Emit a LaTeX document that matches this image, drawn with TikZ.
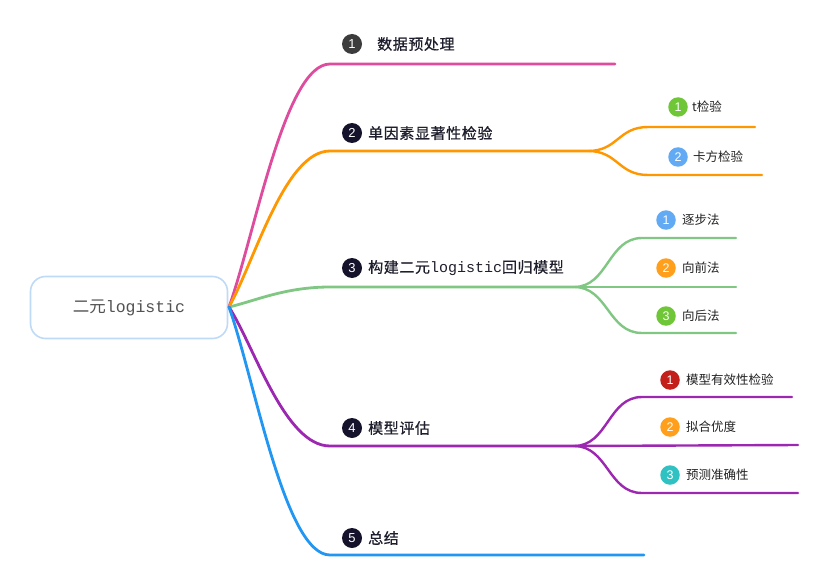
\documentclass[tikz,border=0pt]{standalone}
\usepackage{fontspec}
\setmainfont{Liberation Sans}
\newfontfamily\cjk{Noto Sans CJK SC}
\newfontfamily\cjkb[FakeBold=0.7,LetterSpace=4]{Noto Sans CJK SC}
\newfontfamily\mono{Liberation Mono}
\definecolor{cPink}{HTML}{DD4C9D}
\definecolor{cOrange}{HTML}{FF9800}
\definecolor{cGreen}{HTML}{81C784}
\definecolor{cPurple}{HTML}{9C27B0}
\definecolor{cBlue}{HTML}{2196F3}
\definecolor{cRoot}{HTML}{BFDAF7}
\definecolor{cDarkA}{HTML}{3C3C3C}
\definecolor{cDarkB}{HTML}{15132B}
\definecolor{sGreen}{HTML}{6FC636}
\definecolor{sBlue}{HTML}{62AAF4}
\definecolor{sOrange}{HTML}{FF9F1C}
\definecolor{sRed}{HTML}{C3201C}
\definecolor{sTeal}{HTML}{30C2C2}
\definecolor{tMain}{HTML}{1E1E2C}
\definecolor{tSub}{HTML}{222222}
\begin{document}
\begin{tikzpicture}[x=1pt,y=-1pt,
  br/.style={line width=2.8pt,line cap=round},
  sb/.style={line width=2.4pt,line cap=round},
  mc/.style={circle,minimum size=20pt,inner sep=0pt,text=white,font=\fontsize{13}{13}\selectfont},
  scir/.style={circle,minimum size=19.5pt,inner sep=0pt,text=white,font=\fontsize{12.5}{12.5}\selectfont},
  mlab/.style={anchor=west,inner sep=0pt,text=tMain,font=\fontsize{15}{15}\cjkb},
  slab/.style={anchor=west,inner sep=0pt,text=tSub,font=\fontsize{12.5}{12.5}\cjk}
]
\useasboundingbox (0,0) rectangle (826,588);
\fill[white] (0,0) rectangle (826,588);

% root
\node[draw=cRoot,line width=1.6pt,rounded corners=15pt,minimum width=197pt,minimum height=62pt,
      inner sep=0pt,text=black!68,font=\fontsize{16.5}{16.5}\cjk] (root) at (129,307.5) {二元{\mono logistic}};
\coordinate (r0) at (229,307);

% coordinates
\coordinate (a1) at (330,64);  \coordinate (b1) at (615,64);
\coordinate (a2) at (330,151); \coordinate (f2) at (588,151);
\coordinate (a3) at (330,287); \coordinate (f3) at (574,287);
\coordinate (a4) at (330,446); \coordinate (f4) at (574,446);
\coordinate (a5) at (330,555); \coordinate (b5) at (644,555);

\coordinate (s21a) at (648,127); \coordinate (s21b) at (755,127);
\coordinate (s22a) at (648,175); \coordinate (s22b) at (762,175);

\coordinate (s31a) at (642,238); \coordinate (s31b) at (736,238);
\coordinate (s32b) at (736,287);
\coordinate (s33a) at (642,333); \coordinate (s33b) at (736,333);

\coordinate (s41a) at (642,397); \coordinate (s41b) at (792,397);
\coordinate (s42b) at (798,445);
\coordinate (s43a) at (642,493); \coordinate (s43b) at (798,493);

% main branches
\draw[br,cPink]   (r0) .. controls (255,234) and (285,64) .. (a1) -- (b1);
\draw[br,cOrange] (r0) .. controls (255,260) and (285,151) .. (a2) -- (f2);
\draw[br,cGreen]  (r0) .. controls (255,301) and (285,287) .. (a3) -- (f3);
\draw[br,cPurple] (r0) .. controls (255,348) and (285,446) .. (a4) -- (f4);
\draw[br,cBlue]   (r0) .. controls (255,381) and (285,555) .. (a5) -- (b5);

% sub branches
\draw[sb,cOrange] (f2) .. controls +(30,0) and +(-30,0) .. (s21a) -- (s21b);
\draw[sb,cOrange] (f2) .. controls +(30,0) and +(-30,0) .. (s22a) -- (s22b);
\draw[sb,cGreen] (f3) .. controls +(34,0) and +(-34,0) .. (s31a) -- (s31b);
\draw[sb,cGreen] (f3) -- (s32b);
\draw[sb,cGreen] (f3) .. controls +(34,0) and +(-34,0) .. (s33a) -- (s33b);
\draw[sb,cPurple] (f4) .. controls +(34,0) and +(-34,0) .. (s41a) -- (s41b);
\draw[sb,cPurple] (f4) -- (s42b);
\draw[sb,cPurple] (f4) .. controls +(34,0) and +(-34,0) .. (s43a) -- (s43b);

% main labels
\node[mc,fill=cDarkA] (n1) at (352,44) {1};
\node[mlab] (t1) at (377,44) {数据预处理};
\node[mc,fill=cDarkB] (n2) at (352,133) {2};
\node[mlab] (t2) at (368,133) {单因素显著性检验};
\node[mc,fill=cDarkB] (n3) at (352,268) {3};
\node[mlab] (t3) at (368,268) {构建二元{\mono logistic}回归模型};
\node[mc,fill=cDarkB] (n4) at (352,428) {4};
\node[mlab] (t4) at (368,428) {模型评估};
\node[mc,fill=cDarkB] (n5) at (352,538) {5};
\node[mlab] (t5) at (368,538) {总结};

% sub labels
\node[scir,fill=sGreen] (m21) at (678,107) {1};
\node[slab] (u21) at (692,107) {t检验};
\node[scir,fill=sBlue] (m22) at (678,157) {2};
\node[slab] (u22) at (693,157) {卡方检验};

\node[scir,fill=sBlue] (m31) at (666,220) {1};
\node[slab] (u31) at (682,220) {逐步法};
\node[scir,fill=sOrange] (m32) at (666,268) {2};
\node[slab] (u32) at (682,268) {向前法};
\node[scir,fill=sGreen] (m33) at (666,316) {3};
\node[slab] (u33) at (682,316) {向后法};

\node[scir,fill=sRed] (m41) at (670,380) {1};
\node[slab] (u41) at (686,380) {模型有效性检验};
\node[scir,fill=sOrange] (m42) at (670,427) {2};
\node[slab] (u42) at (686,427) {拟合优度};
\node[scir,fill=sTeal] (m43) at (670,475) {3};
\node[slab] (u43) at (686,475) {预测准确性};
\end{tikzpicture}
\end{document}
